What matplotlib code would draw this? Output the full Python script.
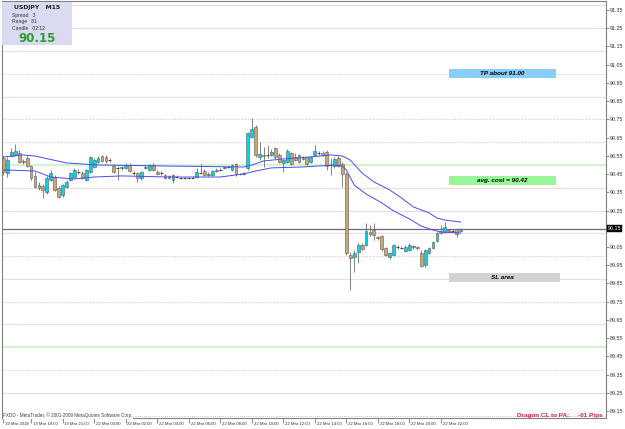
import numpy as np
import matplotlib
matplotlib.use("Agg")
import matplotlib.pyplot as plt
from matplotlib.patches import Rectangle
from matplotlib.transforms import blended_transform_factory

# USDJPY M15 candles, one row per bar
opens = [90.538, 90.456, 90.549, 90.555, 90.566, 90.522, 90.538, 90.494, 90.440, 90.390,
         90.385, 90.352, 90.418, 90.434, 90.374, 90.335, 90.379, 90.418, 90.434, 90.462,
         90.456, 90.418, 90.462, 90.489, 90.516, 90.549, 90.544, 90.527, 90.494, 90.484,
         90.484, 90.484, 90.500, 90.456, 90.456, 90.429, 90.484, 90.473, 90.500, 90.462,
         90.456, 90.445, 90.440, 90.418, 90.434, 90.429, 90.429, 90.431, 90.431, 90.434,
         90.456, 90.467, 90.445, 90.445, 90.467, 90.473, 90.484, 90.489, 90.473, 90.505,
         90.451, 90.451, 90.484, 90.654, 90.708, 90.544, 90.555, 90.555, 90.555, 90.593,
         90.555, 90.511, 90.516, 90.566, 90.544, 90.555, 90.533, 90.544, 90.516, 90.555,
         90.566, 90.566, 90.571, 90.500, 90.494, 90.538, 90.505, 90.451, 90.006, 89.995,
         90.023, 90.061, 90.061, 90.132, 90.143, 90.105, 90.111, 90.045, 89.995, 90.006,
         90.050, 90.045, 90.028, 90.034, 90.056, 90.050, 90.018, 89.951, 90.018, 90.045,
         90.083, 90.138, 90.132, 90.143, 90.138, 90.149, 90.138]
highs = [90.549, 90.544, 90.593, 90.615, 90.582, 90.533, 90.549, 90.500, 90.462, 90.407,
         90.396, 90.440, 90.473, 90.445, 90.385, 90.396, 90.418, 90.462, 90.484, 90.478,
         90.467, 90.478, 90.549, 90.538, 90.549, 90.555, 90.555, 90.538, 90.505, 90.494,
         90.494, 90.511, 90.511, 90.467, 90.462, 90.467, 90.500, 90.505, 90.511, 90.473,
         90.467, 90.451, 90.445, 90.451, 90.445, 90.434, 90.434, 90.434, 90.440, 90.484,
         90.505, 90.478, 90.462, 90.473, 90.484, 90.484, 90.494, 90.494, 90.505, 90.511,
         90.456, 90.462, 90.681, 90.758, 90.719, 90.626, 90.599, 90.610, 90.588, 90.599,
         90.566, 90.533, 90.588, 90.571, 90.566, 90.560, 90.549, 90.549, 90.549, 90.610,
         90.577, 90.577, 90.582, 90.538, 90.544, 90.549, 90.516, 90.462, 90.023, 90.034,
         90.072, 90.072, 90.182, 90.171, 90.182, 90.111, 90.116, 90.050, 90.023, 90.067,
         90.061, 90.056, 90.061, 90.072, 90.061, 90.056, 90.034, 90.039, 90.050, 90.083,
         90.132, 90.171, 90.187, 90.149, 90.149, 90.154, 90.154]
lows = [90.445, 90.434, 90.544, 90.549, 90.511, 90.505, 90.489, 90.418, 90.374, 90.363,
        90.319, 90.341, 90.412, 90.357, 90.319, 90.324, 90.374, 90.412, 90.429, 90.451,
        90.423, 90.412, 90.456, 90.484, 90.511, 90.516, 90.511, 90.516, 90.456, 90.418,
        90.473, 90.478, 90.462, 90.445, 90.407, 90.418, 90.478, 90.467, 90.467, 90.445,
        90.445, 90.423, 90.423, 90.401, 90.429, 90.423, 90.423, 90.423, 90.429, 90.429,
        90.451, 90.440, 90.440, 90.440, 90.462, 90.467, 90.478, 90.484, 90.467, 90.440,
        90.445, 90.445, 90.473, 90.648, 90.544, 90.527, 90.489, 90.538, 90.549, 90.533,
        90.511, 90.462, 90.511, 90.500, 90.522, 90.511, 90.527, 90.500, 90.511, 90.549,
        90.555, 90.549, 90.473, 90.445, 90.484, 90.489, 90.379, 90.006, 89.814, 89.913,
        89.962, 90.034, 90.056, 90.111, 90.089, 90.089, 90.028, 90.001, 89.984, 90.001,
        90.039, 90.039, 90.023, 90.028, 90.039, 90.034, 89.940, 89.940, 90.012, 90.039,
        90.078, 90.121, 90.127, 90.132, 90.132, 90.105, 90.132]
closes = [90.462, 90.527, 90.571, 90.577, 90.516, 90.516, 90.494, 90.429, 90.379, 90.374,
          90.363, 90.429, 90.456, 90.363, 90.324, 90.390, 90.407, 90.456, 90.473, 90.459,
          90.429, 90.473, 90.544, 90.527, 90.538, 90.522, 90.522, 90.525, 90.462, 90.481,
          90.489, 90.500, 90.467, 90.453, 90.429, 90.462, 90.489, 90.500, 90.473, 90.451,
          90.453, 90.429, 90.429, 90.445, 90.437, 90.431, 90.431, 90.429, 90.434, 90.462,
          90.459, 90.445, 90.451, 90.467, 90.473, 90.470, 90.489, 90.486, 90.500, 90.451,
          90.448, 90.456, 90.675, 90.697, 90.555, 90.560, 90.549, 90.558, 90.571, 90.544,
          90.516, 90.527, 90.577, 90.505, 90.527, 90.516, 90.538, 90.505, 90.544, 90.577,
          90.563, 90.555, 90.494, 90.503, 90.533, 90.494, 90.451, 90.018, 89.990, 90.018,
          90.061, 90.039, 90.138, 90.121, 90.116, 90.100, 90.039, 90.006, 90.018, 90.061,
          90.047, 90.047, 90.050, 90.061, 90.050, 90.045, 89.946, 90.034, 90.045, 90.078,
          90.127, 90.127, 90.160, 90.138, 90.141, 90.121, 90.150]

# Dragon band (moving averages of highs and lows), sampled at bar indexes
upper_bars = [0, 5, 8, 16, 24, 42, 61, 63, 66, 71, 78, 83, 86, 88, 91, 94, 98, 101, 104, 108, 110, 112, 116]
upper_vals = [90.544, 90.555, 90.549, 90.511, 90.500, 90.494, 90.489, 90.500, 90.522, 90.533, 90.544,
              90.555, 90.549, 90.527, 90.456, 90.407, 90.363, 90.319, 90.270, 90.237, 90.209, 90.198, 90.187]
lower_bars = [0, 8, 12, 18, 23, 30, 42, 55, 61, 64, 68, 76, 84, 86, 87, 89, 92, 96, 99, 103, 106, 109, 111, 116]
lower_vals = [90.473, 90.467, 90.434, 90.423, 90.434, 90.440, 90.434, 90.434, 90.451, 90.467, 90.484, 90.489,
              90.500, 90.494, 90.473, 90.390, 90.341, 90.292, 90.248, 90.204, 90.165, 90.143, 90.132, 90.127]

# Murrey-style horizontal levels
levels = [91.375, 91.25, 91.125, 91.0, 90.875, 90.75, 90.625, 90.5, 90.375, 90.25,
          90.125, 90.0, 89.875, 89.75, 89.625, 89.5, 89.375, 89.25, 89.125]
level_kinds = ["pink", "blue", "pink", "pinkdot", "pink", "bluedot", "pinkdot", "green", "pink", "blue",
               "pink", "pinkdot", "pink", "bluedot", "pink", "green", "pinkdot", "blue", "graydot"]

bid = 90.15
time_labels = ["19 Mar 2018", "19 Mar 19:00", "19 Mar 21:00", "22 Mar 00:00", "22 Mar 02:00",
               "22 Mar 04:00", "22 Mar 06:00", "22 Mar 08:00", "22 Mar 10:00", "22 Mar 12:00",
               "22 Mar 14:00", "22 Mar 16:00", "22 Mar 18:00", "22 Mar 20:00", "22 Mar 22:00"]
notes = [("TP about 91.00", 91.00, "#87CEFA"),
         ("avg. cost = 90.42", 90.415, "#98F598"),
         ("SL area", 89.883, "#D3D3D3")]

W, H = 625, 429
fig = plt.figure(figsize=(W / 100, H / 100), dpi=100)
ax = fig.add_axes([2 / W, 11 / H, 604 / W, 417 / H])
ax.set_xlim(-0.38, 152.9)
ax.set_ylim(89.112, 91.3995)

level_style = {
    "pink": dict(color="#F8D8D8", lw=0.8, ls="-"),
    "pinkdot": dict(color="#F4C4C4", lw=0.7, ls=(0, (1.5, 1.5))),
    "blue": dict(color="#DCDCFA", lw=0.8, ls="-"),
    "bluedot": dict(color="#CDCDF6", lw=0.7, ls=(0, (1.5, 1.5))),
    "green": dict(color="#CCF2CC", lw=1.3, ls="-"),
    "graydot": dict(color="#B0B0B0", lw=0.6, ls=(0, (1, 1.5))),
}
for lv, kind in zip(levels, level_kinds):
    ax.axhline(lv, zorder=1, **level_style[kind])

# bid line
ax.axhline(bid, color="#6A6A8E", lw=0.9, zorder=2)

# candles
x = np.arange(len(opens))
o, h, l, c = map(np.array, (opens, highs, lows, closes))
ax.vlines(x, l, h, color="#6E6E6E", lw=0.6, zorder=3)
bw = 0.72
for xi, oi, ci in zip(x, o, c):
    if abs(ci - oi) < 0.004:
        ax.hlines(oi, xi - bw / 2, xi + bw / 2, color="#404040", lw=0.7, zorder=4)
        continue
    fc = "#00D8E8" if ci > oi else "#C8A676"
    ax.add_patch(Rectangle((xi - bw / 2, min(oi, ci)), bw, abs(ci - oi),
                           facecolor=fc, edgecolor="#5A5A5A", lw=0.4, zorder=4))

ax.plot(upper_bars, upper_vals, color="#4A4AF0", lw=0.7, zorder=5)
ax.plot(lower_bars, lower_vals, color="#4A4AF0", lw=0.7, zorder=5)

# note boxes on the right
for txt, lv, col in notes:
    right = 141.2 if txt == "SL area" else 140.2
    ax.add_patch(Rectangle((113.1, lv - 0.025), right - 113.1, 0.05,
                           facecolor=col, edgecolor="none", zorder=3))
    ax.text(126.5, lv, txt, ha="center", va="center", fontsize=4.6,
            family="Liberation Sans", weight="bold", style="italic", zorder=6)

# axes look
for sp in ax.spines.values():
    sp.set_color("#808080")
    sp.set_linewidth(0.8)
ax.yaxis.tick_right()
yt = np.round(np.arange(89.15, 91.36, 0.1), 2)
ax.set_yticks(yt)
# the bid tag covers the 90.15 label
ax.set_yticklabels(["" if abs(v - bid) < 1e-6 else f"{v:.2f}" for v in yt],
                   fontsize=3.8, family="Liberation Sans", color="#303030")
ax.tick_params(axis="y", length=2, width=0.5, pad=1, colors="#606060", labelcolor="#303030")

tick_bars = [0] + list(range(7, 112, 8))
ax.set_xticks(tick_bars)
ax.set_xticklabels([])
ax.tick_params(axis="x", length=3.5, width=0.5, direction="out", colors="#606060")
for b, lbl in zip(tick_bars, time_labels):
    ax.annotate(lbl, xy=(b, 0), xycoords=("data", "axes fraction"), xytext=(1.3, -4.3),
                textcoords="offset points", ha="left", va="center", fontsize=3.1,
                family="Liberation Sans", color="#303030")

# bid price tag on the axis
tr = blended_transform_factory(ax.transAxes, ax.transData)
ax.text(1.003, bid, "90.15", transform=tr, ha="left", va="center", fontsize=3.8,
        family="Liberation Sans", color="white",
        bbox=dict(boxstyle="square,pad=0.15", fc="black", ec="black", lw=0.3))

# info panel top-left
fig.add_artist(Rectangle((2 / W, 1 - 45 / H), 70 / W, 43 / H, transform=fig.transFigure,
                         facecolor="#DADAF0", edgecolor="none", zorder=10))
fig.text(37 / W, 1 - 7 / H, "USDJPY   M15", ha="center", va="center", fontsize=4.4,
         weight="bold", color="#202020", zorder=11)
fig.text(12 / W, 1 - 15 / H, "Spread   3", ha="left", va="center", fontsize=3.6,
         family="Liberation Sans", color="#303030", zorder=11)
fig.text(12 / W, 1 - 21.5 / H, "Range   81", ha="left", va="center", fontsize=3.6,
         family="Liberation Sans", color="#303030", zorder=11)
fig.text(12 / W, 1 - 28 / H, "Candle   02:12", ha="left", va="center", fontsize=3.6,
         family="Liberation Sans", color="#303030", zorder=11)
fig.text(37 / W, 1 - 38 / H, "90.15", ha="center", va="center", fontsize=8.5,
         weight="bold", color="#2E9A2E", zorder=11)

# footer texts
ax.text(0.002, 89.125, "FXDD - MetaTrader, \u00a9 2001-2009 MetaQuotes Software Corp.",
        ha="left", va="center", fontsize=3.3, family="Liberation Sans", color="#404040",
        zorder=6, bbox=dict(fc="white", ec="none", pad=0.3),
        transform=tr)
ax.text(0.995, 89.125, "Dragon CL to PA:     -01 Pips", ha="right", va="center",
        fontsize=4.6, family="Liberation Sans", weight="bold", color="#E0204A",
        zorder=6, transform=tr)

fig.savefig("out.png", dpi=100, facecolor="white")
